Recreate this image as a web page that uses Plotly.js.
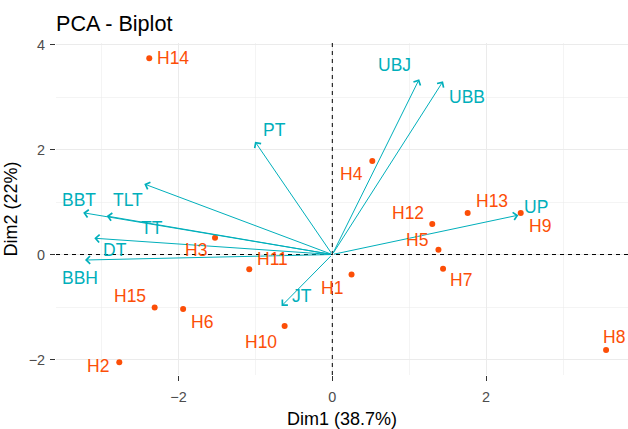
<!DOCTYPE html>
<html>
<head>
<meta charset="utf-8">
<script src="https://cdn.plot.ly/plotly-3.0.1.min.js"></script>
<style>html,body{margin:0;padding:0;background:#fff;}#chart{width:628px;height:429px;}</style>
</head>
<body>
<div id="chart"></div>
<script>
// ---- Data ----
const indNames = ['H1','H2','H3','H4','H5','H6','H7','H8','H9','H10','H11','H12','H13','H14','H15'];
const indDim1  = [0.25,-2.77,-1.525,0.52,1.38,-1.94,1.44,3.56,2.45,-0.62,-1.08,1.30,1.76,-2.38,-2.31];
const indDim2  = [-0.38,-2.05,0.32,1.78,0.09,-1.04,-0.27,-1.82,0.79,-1.36,-0.28,0.58,0.79,3.74,-1.01];

const varNames = ['BBT','TLT','TT','DT','BBH','PT','UBJ','UBB','UP','JT'];
const varDim1  = [-3.24,-2.445,-2.934,-3.095,-3.216,-1.005,1.13,1.44,2.42,-0.66];
const varDim2  = [0.796,1.343,0.733,0.31,-0.105,2.15,3.34,3.30,0.75,-0.98];

const xTitle = 'Dim1 (38.7%)';
const yTitle = 'Dim2 (22%)';
const chartTitle = 'PCA - Biplot';

// ---- Styles (label offsets in pixels, repel-like placement) ----
const indLabelDx = [-20,-21,-19,-21,-21,19,18,8,19,-24,23,-24,24,23.5,-24.5];
const indLabelDy = [14,4,12,13,-10,13,11,-13,13,16,-10,-11,-12,0,-12];
const varLabelDx = [-4,-16,45,21,-5,19,-25,24,18,20];
const varLabelDy = [-13,16,12,12,18,-12,-14,16,-8,-10];

const indColor = '#FC4E07';
const varColor = '#00AFBB';
const fontFam = 'Liberation Sans, Arial, sans-serif';

const annotations = [];
// variable arrows
for (let i = 0; i < varNames.length; i++) {
  annotations.push({
    x: varDim1[i], y: varDim2[i], xref: 'x', yref: 'y',
    ax: 0, ay: 0, axref: 'x', ayref: 'y',
    showarrow: true, arrowhead: 4, arrowsize: 1.5, arrowwidth: 1,
    arrowcolor: varColor, text: ''
  });
}
// variable labels
for (let i = 0; i < varNames.length; i++) {
  annotations.push({
    x: varDim1[i], y: varDim2[i], xref: 'x', yref: 'y',
    text: varNames[i], showarrow: false,
    xshift: varLabelDx[i], yshift: -varLabelDy[i],
    font: {family: fontFam, size: 17.5, color: varColor}
  });
}
// individual labels
for (let i = 0; i < indNames.length; i++) {
  annotations.push({
    x: indDim1[i], y: indDim2[i], xref: 'x', yref: 'y',
    text: indNames[i], showarrow: false,
    xshift: indLabelDx[i], yshift: -indLabelDy[i],
    font: {family: fontFam, size: 17.5, color: indColor}
  });
}

const traces = [{
  type: 'scatter', mode: 'markers',
  x: indDim1, y: indDim2, text: indNames,
  marker: {color: indColor, size: 6},
  hoverinfo: 'text', showlegend: false
}];

const axisCommon = {
  showgrid: true, gridcolor: '#EBEBEB', gridwidth: 1.1,
  zeroline: false, showline: false,
  ticks: 'outside', ticklen: 5, tickwidth: 1, tickcolor: '#333333',
  tickfont: {family: fontFam, size: 14.4, color: '#4D4D4D'},
  tick0: 0, dtick: 2,
  minor: {dtick: 1, showgrid: true, gridcolor: '#EBEBEB', gridwidth: 0.55, ticks: ''}
};

const layout = {
  width: 628, height: 429,
  margin: {l: 56, r: 0, t: 43, b: 54},
  paper_bgcolor: '#ffffff', plot_bgcolor: '#ffffff',
  font: {family: fontFam},
  title: {text: chartTitle, x: 0, xref: 'paper', xanchor: 'left',
          y: 1 - 23/429, yref: 'container', yanchor: 'middle',
          font: {family: fontFam, size: 21.6, color: '#000000'}},
  xaxis: Object.assign({}, axisCommon, {
    range: [-3.593, 3.845],
    ticklabelstandoff: 4,
    title: {text: xTitle, font: {family: fontFam, size: 18, color: '#000000'}, standoff: 11}
  }),
  yaxis: Object.assign({}, axisCommon, {
    range: [-2.295, 4.029],
    ticklabelstandoff: 2,
    title: {text: yTitle, font: {family: fontFam, size: 18, color: '#000000'}, standoff: 6}
  }),
  shapes: [
    {type: 'line', xref: 'x', yref: 'paper', x0: 0, x1: 0, y0: 0, y1: 1,
     line: {color: '#000000', width: 1, dash: '4px,4px'}, layer: 'above'},
    {type: 'line', xref: 'paper', yref: 'y', x0: 0, x1: 1, y0: 0, y1: 0,
     line: {color: '#000000', width: 1, dash: '4px,4px'}, layer: 'above'}
  ],
  annotations: annotations
};

Plotly.newPlot('chart', traces, layout, {displayModeBar: false, staticPlot: true});
</script>
</body>
</html>
